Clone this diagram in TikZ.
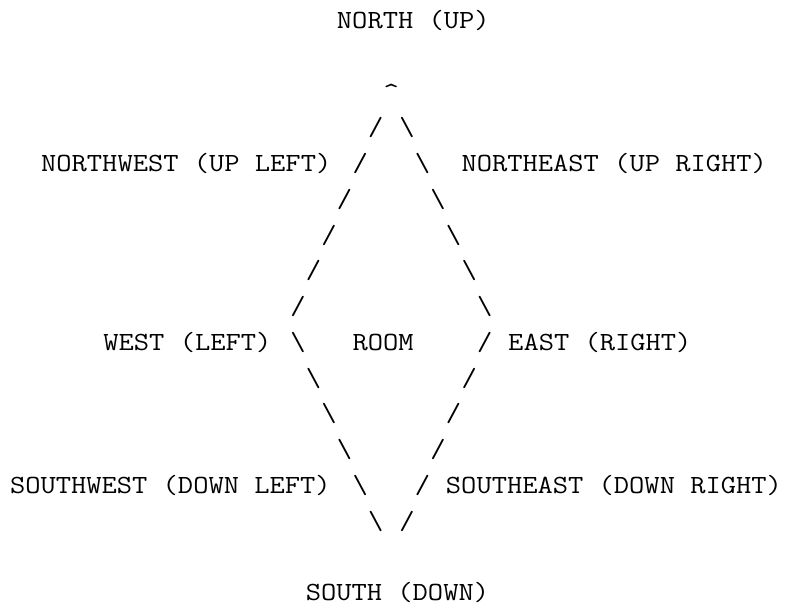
\documentclass[tikz,border=0pt]{standalone}
\usepackage{fontspec}
\newfontfamily\asciifont[FakeStretch=1.132]{Latin Modern Mono}
\tikzset{
  txt/.style={font=\asciifont\fontsize{26.2}{30}\selectfont, anchor=base west, inner sep=0pt, outer sep=0pt, text=black},
}
% place text in column #2, row #3 of the character grid
\newcommand\gridtext[4]{\node[txt] (#1) at ({10+#2*15.57},{28.5+35.75*#3}) {#4};}
\newcommand\BS{\textbackslash}
\begin{document}
\begin{tikzpicture}[x=1pt,y=-1pt]
\useasboundingbox (0,0) rectangle (787,608);
% labels
\gridtext{north}{21}{0}{NORTH (UP)}
\gridtext{nw}{2}{4}{NORTHWEST (UP LEFT)}
\gridtext{ne}{29}{4}{NORTHEAST (UP RIGHT)}
\gridtext{west}{6}{9}{WEST (LEFT)}
\gridtext{room}{22}{9}{ROOM}
\gridtext{east}{32}{9}{EAST (RIGHT)}
\gridtext{sw}{0}{13}{SOUTHWEST (DOWN LEFT)}
\gridtext{se}{28}{13}{SOUTHEAST (DOWN RIGHT)}
\gridtext{south}{19}{16}{SOUTH (DOWN)}
% apex
\gridtext{apex}{24}{2}{\textasciicircum}
% upper edges
\gridtext{ul3}{23}{3}{/}  \gridtext{ur3}{25}{3}{\BS}
\gridtext{ul4}{22}{4}{/}  \gridtext{ur4}{26}{4}{\BS}
\gridtext{ul5}{21}{5}{/}  \gridtext{ur5}{27}{5}{\BS}
\gridtext{ul6}{20}{6}{/}  \gridtext{ur6}{28}{6}{\BS}
\gridtext{ul7}{19}{7}{/}  \gridtext{ur7}{29}{7}{\BS}
\gridtext{ul8}{18}{8}{/}  \gridtext{ur8}{30}{8}{\BS}
% lower edges
\gridtext{ll9}{18}{9}{\BS}   \gridtext{lr9}{30}{9}{/}
\gridtext{ll10}{19}{10}{\BS} \gridtext{lr10}{29}{10}{/}
\gridtext{ll11}{20}{11}{\BS} \gridtext{lr11}{28}{11}{/}
\gridtext{ll12}{21}{12}{\BS} \gridtext{lr12}{27}{12}{/}
\gridtext{ll13}{22}{13}{\BS} \gridtext{lr13}{26}{13}{/}
\gridtext{ll14}{23}{14}{\BS} \gridtext{lr14}{25}{14}{/}
\end{tikzpicture}
\end{document}
